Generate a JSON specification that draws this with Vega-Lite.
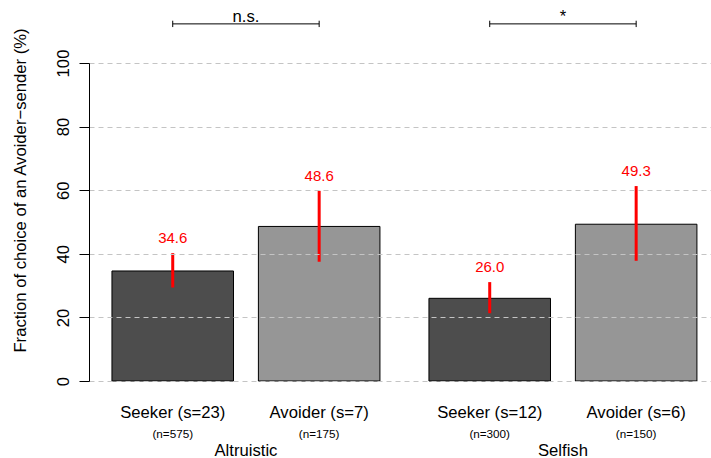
{
  "$schema": "https://vega.github.io/schema/vega-lite/v6.json",
  "width": 622,
  "height": 318,
  "autosize": {"type": "none"},
  "padding": {"left": 89, "top": 63, "right": 0, "bottom": 77},
  "background": "white",
  "config": {
    "view": {"stroke": null},
    "font": "Liberation Sans",
    "text": {"font": "Liberation Sans"}
  },
  "datasets": {
    "bars": [
      {"group": "Altruistic", "type": "Seeker", "label": "Seeker (s=23)", "n": "(n=575)", "value": 34.6, "lo": 29.4, "hi": 40.2},
      {"group": "Altruistic", "type": "Avoider", "label": "Avoider (s=7)", "n": "(n=175)", "value": 48.6, "lo": 37.5, "hi": 59.8},
      {"group": "Selfish", "type": "Seeker", "label": "Seeker (s=12)", "n": "(n=300)", "value": 26.0, "lo": 21.3, "hi": 31.1},
      {"group": "Selfish", "type": "Avoider", "label": "Avoider (s=6)", "n": "(n=150)", "value": 49.3, "lo": 37.8, "hi": 61.3}
    ],
    "sig": [
      {"group": "Altruistic", "sig": "n.s."},
      {"group": "Selfish", "sig": "*"}
    ]
  },
  "data": {"name": "bars"},
  "encoding": {
    "x": {
      "field": "group", "type": "nominal",
      "scale": {"type": "band", "domain": ["Altruistic", "Selfish"], "paddingInner": 0.1546, "paddingOuter": 0.0584, "align": 0.62},
      "axis": {"title": null, "domain": false, "ticks": false, "tickSize": 0, "labelAngle": 0, "labelFontSize": 16.67, "labelColor": "black", "labelBaseline": "alphabetic", "labelPadding": 74.8, "labelFont": "Liberation Sans"}
    },
    "xOffset": {
      "field": "type", "type": "nominal",
      "scale": {"domain": ["Seeker", "Avoider"], "paddingInner": 0.17, "paddingOuter": 0}
    }
  },
  "layer": [
    {
      "mark": {"type": "bar", "stroke": "black", "strokeWidth": 1},
      "encoding": {
        "y": {
          "field": "value", "type": "quantitative",
          "scale": {"domain": [0, 100], "nice": false},
          "title": "Fraction of choice of an Avoider\u2212sender (%)",
          "axis": {
            "title": "Fraction of choice of an Avoider\u2212sender (%)",
            "values": [0, 20, 40, 60, 80, 100],
            "zindex": 1,
            "domainColor": "black", "tickColor": "black", "tickSize": 10,
            "labelAngle": -90, "labelAlign": "center", "labelBaseline": "alphabetic", "labelPadding": 10.5,
            "labelFontSize": 16.67, "labelColor": "black", "labelFont": "Liberation Sans",
            "grid": true, "gridColor": "#c4c4c4", "gridDash": [5, 4], "gridWidth": 1,
            "titleFontSize": 16.67, "titleFontWeight": "normal", "titleColor": "black", "titleFont": "Liberation Sans",
            "titleAngle": -90, "titleAlign": "center", "titleBaseline": "alphabetic", "titleX": -64, "titleY": 127
          }
        },
        "fill": {
          "field": "type", "type": "nominal",
          "scale": {"domain": ["Seeker", "Avoider"], "range": ["#4d4d4d", "#969696"]},
          "legend": null
        }
      }
    },
    {
      "mark": {"type": "rule", "color": "#ff0000", "strokeWidth": 3},
      "encoding": {
        "y": {"field": "lo", "type": "quantitative", "title": "Fraction of choice of an Avoider\u2212sender (%)"},
        "y2": {"field": "hi"}
      }
    },
    {
      "mark": {"type": "text", "color": "#ff0000", "fontSize": 15, "baseline": "middle", "dy": -15},
      "encoding": {
        "y": {"field": "hi", "type": "quantitative", "title": "Fraction of choice of an Avoider\u2212sender (%)"},
        "text": {"field": "value", "type": "quantitative", "format": ".1f"}
      }
    },
    {
      "mark": {"type": "text", "color": "black", "fontSize": 16.67, "baseline": "alphabetic", "dy": 36.7},
      "encoding": {
        "y": {"datum": 0, "type": "quantitative", "title": "Fraction of choice of an Avoider\u2212sender (%)"},
        "text": {"field": "label"}
      }
    },
    {
      "mark": {"type": "text", "color": "black", "fontSize": 11.7, "baseline": "alphabetic", "dy": 56.5},
      "encoding": {
        "y": {"datum": 0, "type": "quantitative", "title": "Fraction of choice of an Avoider\u2212sender (%)"},
        "text": {"field": "n"}
      }
    },
    {
      "mark": {"type": "line", "color": "black", "strokeWidth": 1},
      "encoding": {
        "y": {"datum": 112.3, "type": "quantitative", "title": "Fraction of choice of an Avoider\u2212sender (%)"},
        "detail": {"field": "group"}
      }
    },
    {
      "mark": {"type": "rule", "color": "black", "strokeWidth": 1},
      "encoding": {
        "y": {"datum": 111.3, "type": "quantitative", "title": "Fraction of choice of an Avoider\u2212sender (%)"},
        "y2": {"datum": 113.3}
      }
    },
    {
      "data": {"name": "sig"},
      "mark": {"type": "text", "color": "black", "fontSize": 16.67, "baseline": "alphabetic", "dy": -1.5},
      "encoding": {
        "x": {"field": "group", "type": "nominal"},
        "xOffset": null,
        "y": {"datum": 112.3, "type": "quantitative", "title": "Fraction of choice of an Avoider\u2212sender (%)"},
        "text": {"field": "sig"}
      }
    }
  ]
}
